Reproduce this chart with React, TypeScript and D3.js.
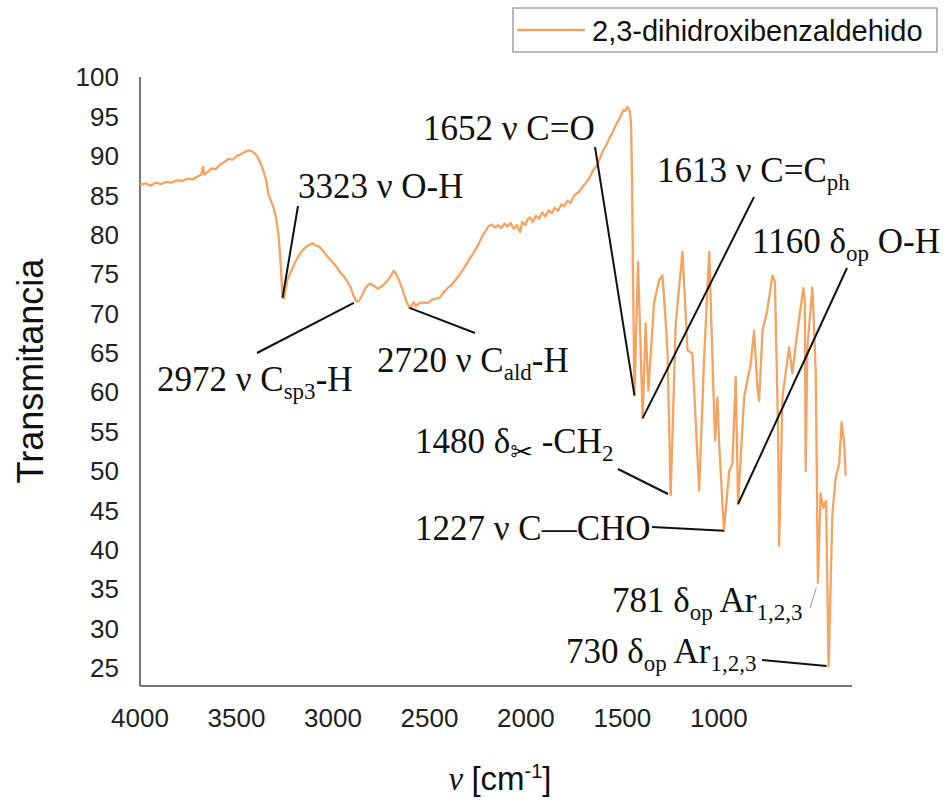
import React from 'react';
import * as d3 from 'd3';

// FTIR spectrum of 2,3-dihydroxybenzaldehyde (wavenumber in cm^-1, transmittance in %)
const wavenumber = [
  4000, 3975, 3950, 3925, 3900, 3875, 3850, 3825, 3800, 3775, 3750, 3725, 3710, 3700, 3695, 3680,
  3660, 3640, 3620, 3600, 3580, 3560, 3540, 3520, 3500, 3485, 3470, 3455, 3446, 3430, 3415, 3400,
  3391, 3380, 3367, 3355, 3343, 3335, 3328, 3323, 3316, 3310, 3300, 3288, 3265, 3240, 3215, 3195,
  3180, 3165, 3150, 3130, 3110, 3090, 3066, 3050, 3035, 3019, 3000, 2985, 2972, 2960, 2945, 2930,
  2908, 2890, 2869, 2850, 2829, 2810, 2795, 2785, 2770, 2757, 2745, 2730, 2720, 2710, 2700, 2690,
  2675, 2655, 2635, 2615, 2590, 2576, 2560, 2540, 2520, 2500, 2480, 2460, 2440, 2420, 2400, 2385,
  2370, 2355, 2346, 2330, 2315, 2300, 2285, 2270, 2255, 2240, 2225, 2210, 2195, 2185, 2170, 2160,
  2148, 2135, 2120, 2105, 2090, 2075, 2060, 2045, 2030, 2015, 2000, 1985, 1970, 1955, 1940, 1927,
  1912, 1900, 1885, 1870, 1860, 1848, 1835, 1820, 1810, 1800, 1785, 1770, 1755, 1737, 1725, 1715,
  1705, 1695, 1688, 1680, 1674, 1668, 1663, 1660, 1652, 1635, 1613, 1599, 1586, 1559, 1535, 1519,
  1503, 1495, 1480, 1456, 1424, 1400, 1377, 1345, 1321, 1297, 1277, 1269, 1258, 1250, 1227, 1202,
  1187, 1171, 1160, 1131, 1100, 1084, 1068, 1060, 1044, 1021, 997, 985, 970, 965, 949, 918,
  902, 878, 850, 843, 839, 831, 807, 791, 781, 768, 755, 742, 730, 712, 696, 680,
  668, 656, 649,
];

const transmittance = [
  86.3, 86.5, 86.2, 86.6, 86.4, 86.7, 86.6, 86.9, 86.8, 87.1, 87.0, 87.4, 87.6, 88.6, 87.6, 87.9,
  88.4, 88.3, 88.9, 89.2, 89.6, 89.5, 90.0, 90.2, 90.5, 90.7, 90.6, 90.3, 90.0, 89.2, 88.2, 86.8,
  85.2, 84.4, 83.5, 82.3, 80.1, 77.5, 74.5, 72.0, 71.9, 72.8, 74.3, 75.0, 76.4, 77.6, 78.4, 78.7,
  78.9, 78.6, 78.5, 77.9, 77.2, 76.6, 75.9, 75.2, 74.8, 74.2, 73.3, 72.2, 71.5, 71.6, 72.3, 73.2,
  73.8, 73.5, 73.1, 73.5, 74.0, 74.7, 75.4, 75.1, 74.2, 73.3, 72.3, 71.2, 70.7, 71.0, 71.4, 70.9,
  71.3, 71.4, 71.3, 71.7, 71.9, 72.0, 72.6, 73.2, 73.6, 74.3, 75.0, 75.8, 76.7, 77.5, 78.4, 79.2,
  80.0, 80.6, 81.0, 81.3, 80.9, 81.2, 80.8, 81.4, 81.0, 81.5, 80.7, 81.2, 80.3, 81.6, 81.2, 81.9,
  82.2, 81.6, 82.4, 82.0, 82.8, 82.3, 83.1, 82.7, 83.4, 83.0, 83.8, 83.6, 84.3, 84.0, 84.9, 85.2,
  85.5, 86.0, 86.5, 87.0, 87.5, 88.2, 88.6, 89.4, 90.1, 90.7, 91.4, 92.3, 93.0, 94.1, 94.6, 95.2,
  95.8, 95.7, 96.2, 96.0, 95.6, 94.1, 86.0, 77.2, 59.6, 76.5, 56.7, 68.7, 60.2, 71.3, 74.2, 74.8,
  68.7, 64.9, 46.9, 68.7, 77.8, 65.3, 64.9, 47.5, 64.4, 77.8, 60.2, 53.9, 59.3, 53.5, 42.4, 50.0,
  50.9, 61.9, 45.8, 59.4, 63.6, 67.8, 60.6, 58.9, 67.8, 70.4, 74.8, 74.0, 55.1, 40.5, 59.4, 65.7,
  62.4, 67.8, 73.2, 71.6, 50.0, 65.7, 73.3, 62.4, 35.8, 47.1, 45.3, 46.2, 25.2, 44.6, 49.2, 50.9,
  56.2, 53.5, 49.4,
];

const xTickValues = [4000, 3500, 3000, 2500, 2000, 1500, 1000];
const yTickValues = [25, 30, 35, 40, 45, 50, 55, 60, 65, 70, 75, 80, 85, 90, 95, 100];
const seriesName = '2,3-dihidroxibenzaldehido';

// Assigned bands: wavenumber of the band and its label pieces
type Seg = { t: string; sub?: boolean; sym?: boolean };
const bandWavenumbers = [3323, 2972, 2720, 1652, 1613, 1480, 1227, 1160, 781, 730];
const bandLabels: Seg[][] = [
  [{ t: '3323 ν O-H' }],
  [{ t: '2972 ν C' }, { t: 'sp3', sub: true }, { t: '-H' }],
  [{ t: '2720 ν C' }, { t: 'ald', sub: true }, { t: '-H' }],
  [{ t: '1652 ν C=O' }],
  [{ t: '1613 ν C=C' }, { t: 'ph', sub: true }],
  [{ t: '1480 δ' }, { t: '✂', sub: true, sym: true }, { t: ' -CH' }, { t: '2', sub: true }],
  [{ t: '1227 ν C—CHO' }],
  [{ t: '1160 δ' }, { t: 'op', sub: true }, { t: ' O-H' }],
  [{ t: '781 δ' }, { t: 'op', sub: true }, { t: ' Ar' }, { t: '1,2,3', sub: true }],
  [{ t: '730 δ' }, { t: 'op', sub: true }, { t: ' Ar' }, { t: '1,2,3', sub: true }],
];

// Where each callout's text sits and where its leader line starts
const calloutLayout = [
  { tx: 298, ty: 198, lx: 298, ly: 206, gap: 0, thin: false },
  { tx: 157, ty: 391, lx: 257, ly: 353, gap: 3, thin: false },
  { tx: 377, ty: 372, lx: 475, ly: 333, gap: 0, thin: false },
  { tx: 423, ty: 140, lx: 595, ly: 147, gap: 0, thin: false },
  { tx: 657, ty: 182, lx: 754, ly: 197, gap: 0, thin: false },
  { tx: 415, ty: 453, lx: 618, ly: 469, gap: 3, thin: false },
  { tx: 415, ty: 540, lx: 652, ly: 527, gap: 0, thin: false },
  { tx: 752, ty: 253, lx: 847, ly: 268, gap: 0, thin: false },
  { tx: 612, ty: 612, lx: 810, ly: 608, gap: 5, thin: true },
  { tx: 566, ty: 663, lx: 762, ly: 660, gap: 2, thin: false },
];

const SANS = '"Liberation Sans", Arial, sans-serif';
const SERIF = '"Liberation Serif", "Times New Roman", serif';
const LINE_COLOR = '#F4A460';
const AXIS_COLOR = '#4a4a4a';

export default function App() {
  const width = 946;
  const height = 801;

  // plotting scale for the spectrum
  const x = d3.scaleLinear().domain([4000, 600]).range([140, 856]);
  // horizontal axis labelling scale
  const xAxis = d3.scaleLinear().domain([4000, 310]).range([140, 852]);
  const y = d3.scaleLinear().domain([22.7, 100]).range([686, 77]);

  const points: [number, number][] = wavenumber.map((w, i) => [w, transmittance[i]]);
  const path = d3
    .line<[number, number]>()
    .x((d) => x(d[0]))
    .y((d) => y(d[1]))(points);

  const [x0, x1] = xAxis.range();
  const [y0, y1] = y.range();

  const renderLabel = (segs: Seg[]) => {
    const subShift = 8;
    let down = false;
    return segs.map((s, i) => {
      let dy = 0;
      if (s.sub && !down) {
        dy = subShift;
        down = true;
      } else if (!s.sub && down) {
        dy = -subShift;
        down = false;
      }
      return (
        <tspan
          key={i}
          dy={dy}
          fontSize={s.sub ? (s.sym ? 27 : 23) : 35}
          fontFamily={s.sym ? '"DejaVu Sans", sans-serif' : SERIF}
        >
          {s.t}
        </tspan>
      );
    });
  };

  return (
    <svg
      width={width}
      height={height}
      viewBox={`0 0 ${width} ${height}`}
      style={{ position: 'absolute', left: 0, top: 0, background: '#fff' }}
    >
      <rect x={0} y={0} width={width} height={height} fill="#fff" />

      {/* axes */}
      <line x1={x0} y1={y1} x2={x0} y2={y0} stroke={AXIS_COLOR} strokeWidth={1.5} />
      <line x1={x0} y1={y0} x2={x1} y2={y0} stroke={AXIS_COLOR} strokeWidth={1.5} />

      {yTickValues.map((v) => (
        <text
          key={`y${v}`}
          x={119}
          y={y(v)}
          dy="0.36em"
          textAnchor="end"
          fontFamily={SANS}
          fontSize={26}
          fill="#222"
        >
          {v}
        </text>
      ))}
      {xTickValues.map((v) => (
        <text
          key={`x${v}`}
          x={xAxis(v)}
          y={727}
          textAnchor="middle"
          fontFamily={SANS}
          fontSize={26}
          fill="#222"
        >
          {v}
        </text>
      ))}

      {/* axis titles */}
      <text
        transform={`translate(43, 371) rotate(-90)`}
        textAnchor="middle"
        fontFamily={SANS}
        fontSize={36}
        fill="#111"
      >
        Transmitancia
      </text>
      <text
        x={500}
        y={790}
        textAnchor="middle"
        fontFamily={SANS}
        fontSize={33}
        fill="#111"
        style={{ whiteSpace: 'pre' }}
      >
        <tspan fontFamily={SERIF} fontStyle="italic">ν </tspan>
        <tspan>[cm</tspan>
        <tspan dy={-12} fontSize={20}>-1</tspan>
        <tspan dy={12}>]</tspan>
      </text>

      {/* spectrum */}
      <path d={path ?? ''} fill="none" stroke={LINE_COLOR} strokeWidth={2.3} strokeLinejoin="round" />

      {/* band assignments */}
      {bandWavenumbers.map((w, i) => {
        const lay = calloutLayout[i];
        const idx = wavenumber.indexOf(w);
        const px = x(w);
        const py = y(transmittance[idx]);
        const dx = px - lay.lx;
        const dyv = py - lay.ly;
        const len = Math.hypot(dx, dyv);
        const ex = px - (dx / len) * lay.gap;
        const ey = py - (dyv / len) * lay.gap;
        return (
          <g key={`b${w}`}>
            <line
              x1={lay.lx}
              y1={lay.ly}
              x2={ex}
              y2={ey}
              stroke={lay.thin ? '#999' : '#111'}
              strokeWidth={lay.thin ? 1 : 2}
            />
            <text x={lay.tx} y={lay.ty} fill="#111" style={{ whiteSpace: 'pre' }}>
              {renderLabel(bandLabels[i])}
            </text>
          </g>
        );
      })}

      {/* legend */}
      <rect x={513} y={8} width={424} height={44} fill="#fff" stroke="#8c8c8c" strokeWidth={1.2} />
      <line x1={517} y1={30} x2={585} y2={30} stroke={LINE_COLOR} strokeWidth={2.5} />
      <text x={592} y={41} fontFamily={SANS} fontSize={29} fill="#111">
        {seriesName}
      </text>
    </svg>
  );
}
